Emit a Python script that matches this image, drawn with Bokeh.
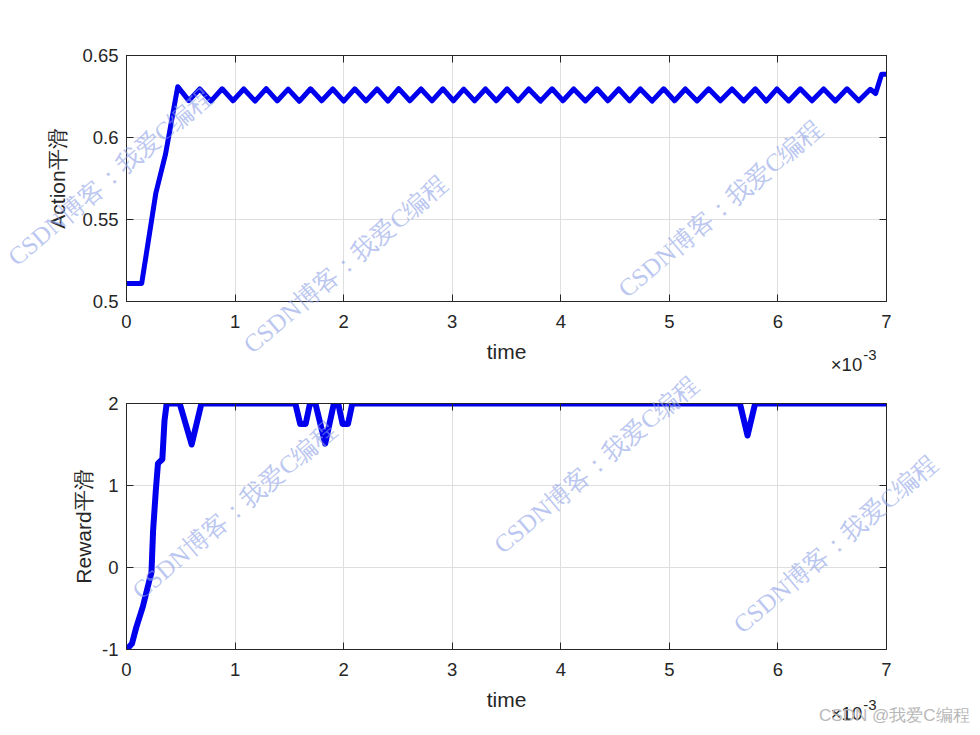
from bokeh.plotting import figure
from bokeh.layouts import column
from bokeh.models import (FixedTicker, LinearAxis, Label, CustomJSTickFormatter,
                          Range1d)
from bokeh.embed import file_html
from bokeh.resources import INLINE

# ---------------- data ----------------
x_ticks = [0, 1, 2, 3, 4, 5, 6, 7]
action_ticks = [0.5, 0.55, 0.6, 0.65]
reward_ticks = [-1, 0, 1, 2]

# time in units of 1e-3 s
time_action = [0.0, 0.14, 0.27, 0.36, 0.472,
               0.574, 0.675, 0.778, 0.881, 0.981, 1.080, 1.184, 1.287, 1.388, 1.489,
               1.592, 1.695, 1.798, 1.900, 2.001, 2.102, 2.205, 2.308, 2.408, 2.507,
               2.610, 2.713, 2.814, 2.915, 3.011, 3.106, 3.206, 3.306, 3.406, 3.506,
               3.606, 3.705, 3.813, 3.920, 4.020, 4.119, 4.227, 4.334, 4.434, 4.534,
               4.634, 4.733, 4.841, 4.948, 5.048, 5.147, 5.255, 5.362, 5.470, 5.577,
               5.685, 5.792, 5.892, 5.991, 6.099, 6.206, 6.314, 6.421, 6.529, 6.636,
               6.744, 6.851, 6.900, 6.955, 7.0]
action_smooth = [0.511, 0.511, 0.566, 0.590, 0.631,
                 0.6225, 0.6296, 0.6222, 0.6297, 0.6224, 0.6296, 0.6222, 0.6298, 0.6223, 0.6295,
                 0.6221, 0.6297, 0.6224, 0.6296, 0.6222, 0.6297, 0.6223, 0.6296, 0.6222, 0.6298,
                 0.6224, 0.6296, 0.6223, 0.6297, 0.6224, 0.6295, 0.6223, 0.6296, 0.6224, 0.6297,
                 0.6223, 0.6296, 0.6222, 0.6297, 0.6224, 0.6296, 0.6223, 0.6297, 0.6224, 0.6296,
                 0.6223, 0.6296, 0.6222, 0.6297, 0.6224, 0.6296, 0.6223, 0.6297, 0.6224, 0.6296,
                 0.6223, 0.6297, 0.6222, 0.6296, 0.6223, 0.6297, 0.6224, 0.6296, 0.6223, 0.6297,
                 0.6224, 0.6294, 0.6268, 0.6385, 0.6385]

time_reward = [0.0, 0.05, 0.09, 0.15, 0.21, 0.23, 0.245, 0.27, 0.29, 0.33, 0.35, 0.37,
               0.49, 0.60, 0.69, 1.555, 1.60, 1.65, 1.69, 1.74, 1.83, 1.91, 1.95, 1.99,
               2.04, 2.08, 5.65, 5.72, 5.79, 7.0]
reward_smooth = [-1.0, -0.93, -0.73, -0.48, -0.16, -0.06, 0.45, 0.94, 1.27, 1.32, 1.79, 2.0,
                 2.0, 1.5, 2.0, 2.0, 1.75, 1.75, 2.0, 2.0, 1.51, 2.0, 2.0, 1.75,
                 1.75, 2.0, 2.0, 1.61, 2.0, 2.0]

x_label = "time"
action_label = "Action平滑"
reward_label = "Reward平滑"
watermark = "CSDN博客：我爱C编程"
credit = "CSDN @我爱C编程"

# ---------------- style ----------------
FONT = "Liberation Sans"
AX = "#262626"
LINE = "#0000ee"
TICK_FS = "18.5px"
LAB_FS = "21px"

FRAME_L, FRAME_R = 126, 886      # page px
FRAME_W = FRAME_R - FRAME_L
TOP1 = 55                         # page y of top frame's top edge
SPLIT = 372                       # page y where second figure starts
PAGE_W, PAGE_H = 978, 730


def make_fig(y0, y1, yticks, ylabel, top_border, bottom_border, label_standoff):
    p = figure(frame_width=FRAME_W, frame_height=246,
               x_range=Range1d(0, 7), y_range=Range1d(y0, y1),
               output_backend="svg", toolbar_location=None,
               min_border_left=FRAME_L, min_border_right=86,
               min_border_top=top_border, min_border_bottom=bottom_border)
    p.background_fill_color = "white"
    p.border_fill_color = "white"
    p.outline_line_color = AX
    p.outline_line_width = 1

    p.add_layout(LinearAxis(), "above")
    p.add_layout(LinearAxis(), "right")

    xt = FixedTicker(ticks=x_ticks)
    yt = FixedTicker(ticks=yticks)
    for ax in p.xaxis:
        ax.ticker = xt
    for ax in p.yaxis:
        ax.ticker = yt
    p.xgrid.ticker = xt
    p.ygrid.ticker = yt

    fmt = CustomJSTickFormatter(code="return String(Math.round(tick*1000)/1000);")
    blank = CustomJSTickFormatter(code="return '';")
    for ax in list(p.xaxis) + list(p.yaxis):
        ax.axis_line_color = AX
        ax.axis_line_width = 1
        ax.major_tick_line_color = AX
        ax.major_tick_in = 7
        ax.major_tick_out = 0
        ax.minor_tick_line_color = None
        ax.major_label_text_font = FONT
        ax.major_label_text_font_size = TICK_FS
        ax.major_label_text_color = AX
        ax.axis_label_text_font = FONT
        ax.axis_label_text_font_size = LAB_FS
        ax.axis_label_text_font_style = "normal"
        ax.axis_label_text_color = AX
        ax.formatter = fmt
    p.above[0].formatter = blank
    p.right[0].formatter = blank
    p.above[0].major_label_text_font_size = "0px"
    p.right[0].major_label_text_font_size = "0px"
    p.above[0].major_label_standoff = 0
    p.right[0].major_label_standoff = 0

    bx = p.below[0]
    bx.axis_label = x_label
    bx.major_label_standoff = 13
    bx.axis_label_standoff = 9
    ly = p.left[0]
    ly.axis_label = ylabel
    ly.major_label_standoff = 8
    ly.axis_label_standoff = label_standoff

    p.xgrid.grid_line_color = "#dedede"
    p.ygrid.grid_line_color = "#dedede"
    p.xgrid.grid_line_width = 1
    p.ygrid.grid_line_width = 1
    return p


p1 = make_fig(0.5, 0.65, action_ticks, action_label, TOP1, SPLIT - TOP1 - 246, 10)
p2 = make_fig(-1, 2, reward_ticks, reward_label, 403 - SPLIT, 78, 4)

p1.line(time_action, action_smooth, line_width=5, line_color=LINE,
        line_join="round", line_cap="round")
p2.line(time_reward, reward_smooth, line_width=6, line_color=LINE,
        line_join="round", line_cap="round")


def lab(text, x, y, size, color, align="center", baseline="middle", angle=0.0,
        font=FONT, alpha=1.0):
    return Label(x=x, y=y, text=text, text_align=align, text_baseline=baseline,
                 angle=angle, angle_units="deg", text_font=font,
                 text_font_size=size, text_color=color, text_alpha=alpha)


# transparent page-wide overlay for texts outside the axes (coordinates = page pixels)
ov = figure(width=PAGE_W, height=PAGE_H, x_range=Range1d(0, PAGE_W),
            y_range=Range1d(PAGE_H, 0), output_backend="svg", toolbar_location=None,
            x_axis_location=None, y_axis_location=None, min_border=0)
ov.grid.visible = False
ov.outline_line_color = None
ov.background_fill_color = None
ov.border_fill_color = None
ov.styles = {"position": "absolute", "left": "0px", "top": "0px",
             "z-index": "10", "pointer-events": "none"}
if "frame_align" in ov.properties():
    ov.frame_align = False

# x10^-3 axis multipliers
for base in (365, 716):
    ov.add_layout(lab("×10", 867, base, "18.5px", AX, "right", "alphabetic"))
    ov.add_layout(lab("-3", 868, base - 9, "15px", AX, "left", "alphabetic"))

WM_COLOR = "#8ea2e6"
for cx, cy in [(110, 177), (347, 265), (724, 209), (235, 512), (599, 466), (840, 546)]:
    ov.add_layout(lab(watermark, cx, cy, "25px", WM_COLOR, angle=40.4,
                      font="Liberation Serif", alpha=0.6))
ov.add_layout(lab(credit, 975, 718, "17px", "#b8b8b8", "right"))

layout = column(p1, p2, ov, spacing=0)
open("out.html", "w").write(file_html(layout, INLINE))
